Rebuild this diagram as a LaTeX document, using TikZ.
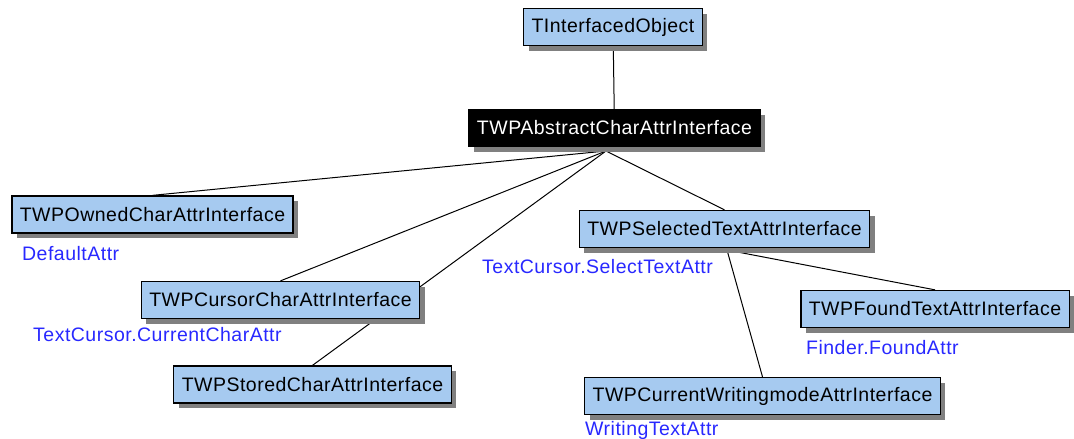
\documentclass[tikz,border=0pt]{standalone}
\usepackage{fontspec}
\setmainfont[LetterSpace=2.5]{Liberation Sans}
\usetikzlibrary{positioning,shadows,backgrounds}
\definecolor{boxblue}{RGB}{166,202,240}
\definecolor{attrblue}{RGB}{40,40,255}
\tikzset{
x=1pt, y=-1pt,
every node/.style={font=\fontsize{19.5}{23}\selectfont},
cls/.style={draw, line width=1.3pt, fill=boxblue, minimum height=37pt,
    inner xsep=8pt, inner ysep=0pt,
    drop shadow={shadow xshift=5pt, shadow yshift=-5pt, fill=gray, opacity=1}},
abscls/.style={cls, fill=black, text=white},
attr/.style={text=attrblue, anchor=base west, inner sep=0pt},
link/.style={line width=1pt},
}

\begin{document}
\begin{tikzpicture}
    \useasboundingbox (0,0) rectangle (1074,439);
    % classes
    \node[cls] (tio) at (613,27) {TInterfacedObject};
    \node[abscls] (abs) at (614.5,128) {TWPAbstractCharAttrInterface};
    \node[cls] (owned) at (152.5,214.5) {TWPOwnedCharAttrInterface};
    \node[cls] (cursor) at (280.5,300) {TWPCursorCharAttrInterface};
    \node[cls] (stored) at (312.5,384.5) {TWPStoredCharAttrInterface};
    \node[cls] (selected) at (724.5,229) {TWPSelectedTextAttrInterface};
    \node[cls] (found) at (935,309) {TWPFoundTextAttrInterface};
    \node[cls] (writing) at (762.5,396) {TWPCurrentWritingmodeAttrInterface};
    % instances
    \node[attr] (defattr) at (22,260) {DefaultAttr};
    \node[attr] (curattr) at (33,341) {TextCursor.CurrentCharAttr};
    \node[attr] (selattr) at (482,273) {TextCursor.SelectTextAttr};
    \node[attr] (foundattr) at (806,354) {Finder.FoundAttr};
    \node[attr] (wrattr) at (585,435) {WritingTextAttr};
    \coordinate (absfork) at (606,151);
    \coordinate (selfork) at (727,250);
    \begin{scope}[on background layer]
        \draw[link] (tio) -- (abs);
        \draw[link] (absfork) -- (owned.north);
        \draw[link] (absfork) -- (cursor.north);
        \draw[link] (absfork) -- (stored.north);
        \draw[link] (absfork) -- (selected.north);
        \draw[link] (selfork) -- (found.north);
        \draw[link] (selfork) -- (writing.north);
    \end{scope}
\end{tikzpicture}
\end{document}
